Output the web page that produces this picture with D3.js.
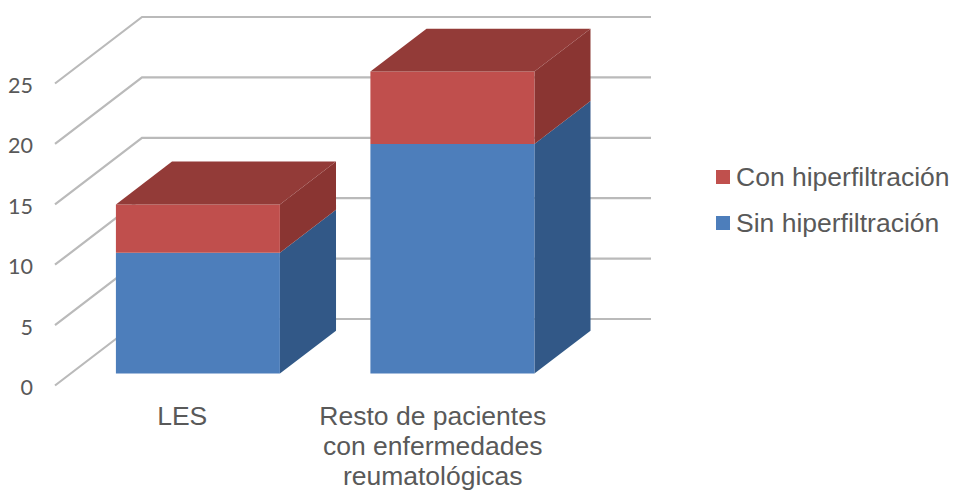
<!DOCTYPE html>
<html lang="es">
<head>
<meta charset="utf-8">
<script src="https://cdn.jsdelivr.net/npm/d3@7"></script>
<style>
html,body{margin:0;padding:0;background:#fff;}
svg{display:block;}
text{font-family:"Liberation Sans",Arial,sans-serif;fill:#595959;}
</style>
</head>
<body>
<svg id="chart" width="954" height="491"></svg>
<script>
const categories = ["LES", "Resto de pacientes con enfermedades reumatológicas"];
const categoryLines = [["LES"], ["Resto de pacientes", "con enfermedades", "reumatológicas"]];
const seriesNames = ["Sin hiperfiltración", "Con hiperfiltración"];
const sinHiper = [10, 19];
const conHiper = [4, 6];
const tickValues = [0, 5, 10, 15, 20, 25];
const frontColors = ["#4d7ebb", "#c0504d"];
const topColors = ["#2f5a8c", "#933a37"];
const sideColors = ["#305987", "#8a3633"];

const svg = d3.select("#chart");
const defs = svg.append("defs");
defs.append("filter").attr("id", "soft")
  .attr("x", "-5%").attr("y", "-5%").attr("width", "110%").attr("height", "110%")
  .append("feGaussianBlur").attr("stdDeviation", 0.5);

const x = d3.scaleBand().domain(categories).range([55, 564]);
const y = d3.scaleLinear().domain([0, 25]).range([385.5, 83.5]);
const depthX = d3.scaleLinear().domain([0, 1]).range([0, 87]);
const depthY = d3.scaleLinear().domain([0, 1]).range([0, -66.5]);
const barWidth = 164, depthFront = 0.18, depthBack = 0.825;

const project = (px, v, d) => [px + depthX(d), y(v) + depthY(d)];
const poly = d3.line();

const marks = svg.append("g").attr("filter", "url(#soft)");

// gridlines: diagonal side wall + back wall
const grid = marks.append("g").attr("fill", "none").attr("stroke", "#bababa").attr("stroke-width", 2.2);
grid.selectAll("path").data(tickValues).join("path")
  .attr("d", v => poly([project(55, v, 0), project(55, v, 1), project(564, v, 1) ]));
// bar stacks
const stacked = d3.stack().keys([0, 1]).value((d, k) => d[k])(sinHiper.map((s, i) => [s, conHiper[i]]));

categories.forEach((cat, i) => {
  const center = x(cat) + x.bandwidth() / 2;
  const left = center - barWidth / 2, right = center + barWidth / 2;
  const g = marks.append("g");
  stacked.forEach((layer, k) => {
    const [v0, v1] = layer[i];
    // side face
    g.append("path").attr("fill", sideColors[k])
      .attr("d", poly([project(right, v0, depthFront), project(right, v0, depthBack),
                       project(right, v1, depthBack), project(right, v1, depthFront)]) + "Z");
    // front face
    g.append("path").attr("fill", frontColors[k])
      .attr("d", poly([project(left, v0, depthFront), project(right, v0, depthFront),
                       project(right, v1, depthFront), project(left, v1, depthFront)]) + "Z");
  });
  const total = stacked[1][i][1];
  g.append("path").attr("fill", topColors[1])
    .attr("d", poly([project(left, total, depthFront), project(right, total, depthFront),
                     project(right, total, depthBack), project(left, total, depthBack)]) + "Z");
});

// value axis labels
const axis = d3.axisLeft(y).tickValues(tickValues).tickSize(0).tickPadding(0);
const axisG = svg.append("g").attr("transform", "translate(33,0)").call(axis);
axisG.select(".domain").remove();
axisG.selectAll("text").attr("font-size", 21.5).attr("font-family", 'Lato,"Liberation Sans",sans-serif')
  .style("font-family", 'Lato,"Liberation Sans",sans-serif')
  .attr("fill", "#595959").attr("dy", "0.42em");

// category labels
const labelShift = [0, -4];
categories.forEach((cat, i) => {
  const center = x(cat) + x.bandwidth() / 2 + labelShift[i];
  const t = svg.append("text").attr("text-anchor", "middle").attr("font-size", 26.5)
    .attr("x", center).attr("y", 425);
  categoryLines[i].forEach((line, j) => {
    t.append("tspan").attr("x", center).attr("dy", j ? 30 : 0).text(line);
  });
});

// legend (reverse series order)
const legendY = d3.scalePoint().domain([1, 0]).range([177, 223]);
const legend = svg.append("g").selectAll("g").data([1, 0]).join("g")
  .attr("transform", k => `translate(716,${legendY(k)})`);
legend.append("rect").attr("x", 0).attr("y", -7).attr("width", 14).attr("height", 14)
  .attr("fill", k => frontColors[k]);
legend.append("text").attr("x", 20).attr("y", 9).attr("font-size", 26.5)
  .text(k => seriesNames[k]);
</script>
</body>
</html>
